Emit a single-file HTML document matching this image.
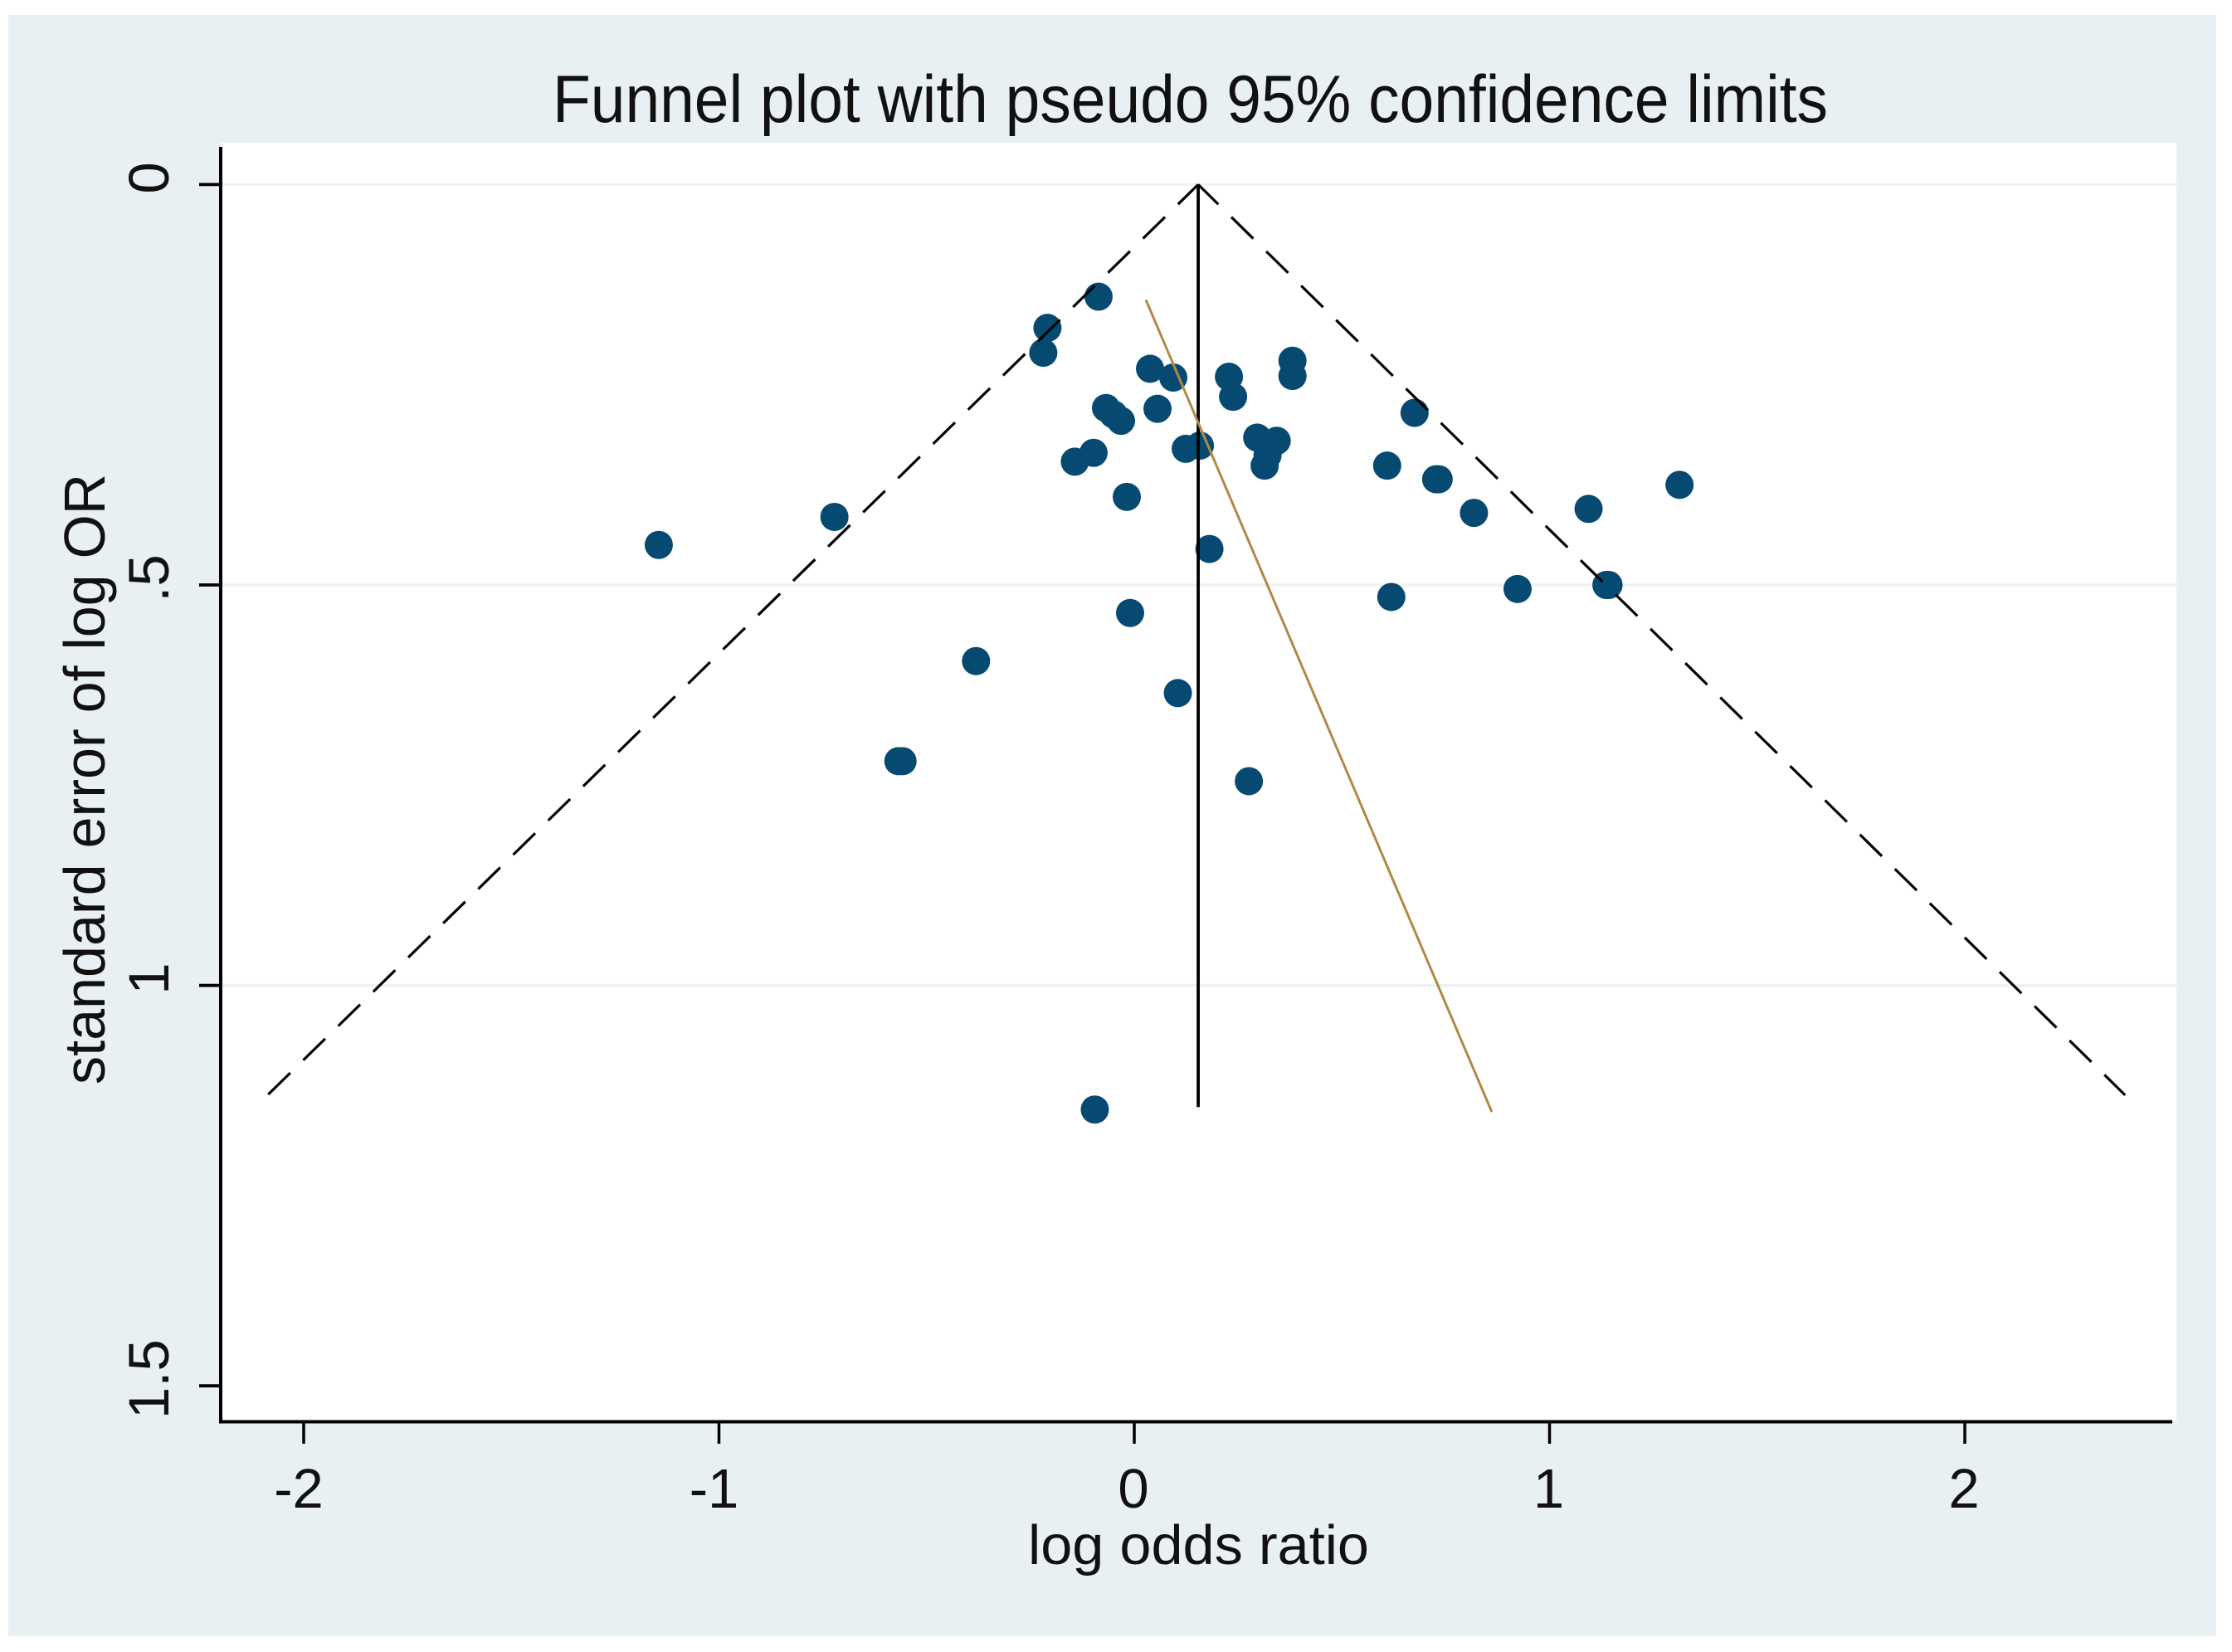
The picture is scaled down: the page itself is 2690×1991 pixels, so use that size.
<!DOCTYPE html>
<html lang="en">
<head>
<meta charset="utf-8">
<title>Funnel plot with pseudo 95% confidence limits</title>
<style>
html,body{margin:0;padding:0;background:#fff;width:2690px;height:1991px;overflow:hidden}
svg{display:block}
text{font-family:"Liberation Sans",sans-serif;fill:#111}
</style>
</head>
<body>
<svg id="chart" xmlns="http://www.w3.org/2000/svg" width="2690" height="1991" viewBox="0 0 2690 1991">
  <rect x="10" y="18" width="2661" height="1954" fill="#e8f0f3"/>
  <rect x="267" y="172" width="2356" height="1541" fill="#ffffff"/>
  <g id="grid"></g>
  <g id="points"></g>
  <g id="lines"></g>
  <g id="axes"></g>
  <text x="1434.5" y="147" font-size="81" text-anchor="middle" textLength="1537" lengthAdjust="spacingAndGlyphs">Funnel plot with pseudo 95% confidence limits</text>
  <text x="1444.5" y="1885" font-size="67" text-anchor="middle" textLength="411" lengthAdjust="spacingAndGlyphs">log odds ratio</text>
  <text transform="translate(126,939) rotate(-90)" font-size="70" text-anchor="middle" textLength="736" lengthAdjust="spacingAndGlyphs">standard error of log OR</text>
</svg>
<script>
// Data
const studyLogOR = [-0.086,-0.209,-0.219,0.038,0.094,0.228,0.238,0.381,0.381,0.675,-0.068,-0.050,-0.032,0.056,0.296,0.343,0.321,0.314,0.124,0.158,-0.098,-0.143,-0.018,0.609,0.727,0.733,0.818,1.094,1.313,0.181,1.137,1.142,0.923,0.619,-0.010,-0.381,0.105,-0.568,-0.558,0.276,-0.722,-1.145,-0.095];
const studySE    = [0.140,0.179,0.210,0.230,0.241,0.240,0.265,0.220,0.239,0.285,0.279,0.287,0.295,0.280,0.316,0.320,0.338,0.351,0.330,0.326,0.335,0.346,0.390,0.351,0.368,0.368,0.410,0.405,0.375,0.455,0.500,0.500,0.505,0.515,0.535,0.595,0.635,0.720,0.720,0.745,0.415,0.450,1.155];
const xTickValues = [-2,-1,0,1,2];
const xTickLabels = ["-2","-1","0","1","2"];
const yTickValues = [0,0.5,1,1.5];
const yTickLabels = ["0",".5","1","1.5"];
const gridValues = [0,0.5,1];
const funnelSE = [0,1.137];
const funnelLower = [0.154,-2.087];
const funnelUpper = [0.154,2.386];
const pooledX = [0.154,0.154];
const pooledSE = [0,1.152];
const eggerX = [0.028,0.861];
const eggerSE = [0.144,1.158];

const NS = "http://www.w3.org/2000/svg";
const xScale = v => 1367 + v * 500.5;
const yScale = v => 222.4 + v * 965.2;

function mk(tag, parent, attrs) {
  const el = document.createElementNS(NS, tag);
  for (const k in attrs) el.setAttribute(k, attrs[k]);
  parent.appendChild(el);
  return el;
}
const gridG = document.getElementById("grid");
const pointsG = document.getElementById("points");
const linesG = document.getElementById("lines");
const axesG = document.getElementById("axes");

gridValues.forEach(v => {
  const el = mk("line", gridG, {x1:268, x2:2623, y1:yScale(v), y2:yScale(v), stroke:"#eef2f4", "stroke-width":3.5});
  
  
});

studyLogOR.forEach((v, i) => {
  const el = mk("circle", pointsG, {cx:xScale(v), cy:yScale(studySE[i]), r:17, fill:"#074a71"});
  
  
});

function polyFrom(xs, ses) {
  return xs.map((v, i) => xScale(v) + "," + yScale(ses[i])).join(" ");
}
const lowerLine = mk("polyline", linesG, {points:polyFrom(funnelLower.slice().reverse(), funnelSE.slice().reverse()), fill:"none", stroke:"#000", "stroke-width":3.2});


lowerLine.setAttribute('points', polyFrom(funnelLower, funnelSE));
lowerLine.setAttribute('stroke-dasharray', '37 22');
lowerLine.setAttribute('stroke-dashoffset', '3');
const upperLine = mk("polyline", linesG, {points:polyFrom(funnelUpper, funnelSE), fill:"none", stroke:"#000", "stroke-width":3.2, "stroke-dasharray":"37 22", "stroke-dashoffset":3});


const pooledLine = mk("polyline", linesG, {points:polyFrom(pooledX, pooledSE), fill:"none", stroke:"#000", "stroke-width":3.8});


const eggerLine = mk("polyline", linesG, {points:polyFrom(eggerX, eggerSE), fill:"none", stroke:"#b08a45", "stroke-width":3});



const yAxisLine = mk("line", axesG, {x1:266, x2:266, y1:177, y2:1715, stroke:"#000", "stroke-width":4});


const xAxisLine = mk("line", axesG, {x1:264, x2:2618, y1:1713.5, y2:1713.5, stroke:"#000", "stroke-width":4});



xTickValues.forEach((v, i) => {
  const px = xScale(v);
  const tick = mk("line", axesG, {x1:px, x2:px, y1:1715, y2:1740, stroke:"#000", "stroke-width":3.5});
  
  
  const label = mk("text", axesG, {x:px - (v < 0 ? 6 : 1), y:1817, "font-size":67, "text-anchor":"middle"});
  label.textContent = xTickLabels[i];
  
  
});

yTickValues.forEach((v, i) => {
  const py = yScale(v);
  const tick = mk("line", axesG, {x1:240, x2:266, y1:py, y2:py, stroke:"#000", "stroke-width":3.8});
  
  
  const label = mk("text", axesG, {transform:"translate(203," + (py - 8) + ") rotate(-90)", "font-size":69, "text-anchor":"middle"});
  label.textContent = yTickLabels[i];
  
  
});
</script>
</body>
</html>
